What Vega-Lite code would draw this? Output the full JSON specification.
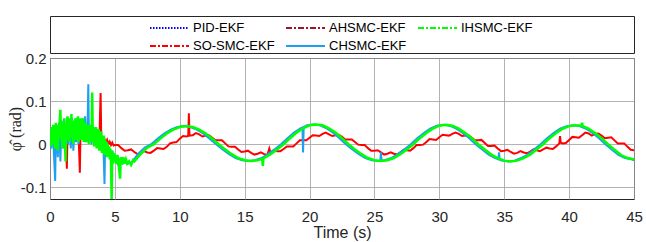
{
"$schema": "https://vega.github.io/schema/vega-lite/v6.json",
"background": "white",
"padding": {"left": 6, "top": 15, "right": 11, "bottom": 2},
"autosize": {"type": "pad"},
"spacing": 5,
"bounds": "flush",
"config": {
  "view": {"stroke": "#262626", "strokeWidth": 1},
  "font": "Liberation Sans",
  "axis": {"gridColor": "#a0a0a0", "gridWidth": 0.8, "gridOpacity": 1, "domain": false, "ticks": false, "labelFont": "Liberation Sans", "labelFontSize": 15, "labelColor": "#262626", "labelFlush": false, "labelOverlap": false, "titleFont": "Liberation Sans", "titleFontWeight": "normal", "titleColor": "#262626"}
},
"vconcat": [
  {
    "width": 584, "height": 37,
    "data": {"values": [{"k": 0}]},
    "mark": {"type": "point", "opacity": 0},
    "encoding": {
      "x": {"field": "k", "type": "quantitative", "axis": null},
      "y": {"field": "k", "type": "quantitative", "axis": null}
    }
  },
  {
    "width": 584, "height": 141,
    "data": {"values": [
{"s":"IHSMC-EKF","t":0.00,"v":0.010},{"s":"IHSMC-EKF","t":0.05,"v":0.035},{"s":"IHSMC-EKF","t":0.10,"v":-0.005},{"s":"IHSMC-EKF","t":0.15,"v":0.040},{"s":"IHSMC-EKF","t":0.20,"v":0.005},{"s":"IHSMC-EKF","t":0.25,"v":0.045},{"s":"IHSMC-EKF","t":0.30,"v":0.000},{"s":"IHSMC-EKF","t":0.35,"v":0.030},{"s":"IHSMC-EKF","t":0.40,"v":-0.010},{"s":"IHSMC-EKF","t":0.45,"v":0.050},
{"s":"IHSMC-EKF","t":0.50,"v":0.010},{"s":"IHSMC-EKF","t":0.55,"v":0.040},{"s":"IHSMC-EKF","t":0.60,"v":-0.015},{"s":"IHSMC-EKF","t":0.65,"v":0.045},{"s":"IHSMC-EKF","t":0.70,"v":0.015},{"s":"IHSMC-EKF","t":0.75,"v":0.055},{"s":"IHSMC-EKF","t":0.80,"v":0.080},{"s":"IHSMC-EKF","t":0.85,"v":0.010},{"s":"IHSMC-EKF","t":0.90,"v":0.050},{"s":"IHSMC-EKF","t":0.95,"v":-0.010},
{"s":"IHSMC-EKF","t":1.00,"v":0.045},{"s":"IHSMC-EKF","t":1.05,"v":0.000},{"s":"IHSMC-EKF","t":1.10,"v":0.060},{"s":"IHSMC-EKF","t":1.15,"v":0.015},{"s":"IHSMC-EKF","t":1.20,"v":-0.040},{"s":"IHSMC-EKF","t":1.25,"v":0.050},{"s":"IHSMC-EKF","t":1.30,"v":0.010},{"s":"IHSMC-EKF","t":1.35,"v":0.065},{"s":"IHSMC-EKF","t":1.40,"v":0.020},{"s":"IHSMC-EKF","t":1.45,"v":0.055},
{"s":"IHSMC-EKF","t":1.50,"v":0.005},{"s":"IHSMC-EKF","t":1.55,"v":0.060},{"s":"IHSMC-EKF","t":1.60,"v":0.020},{"s":"IHSMC-EKF","t":1.65,"v":0.070},{"s":"IHSMC-EKF","t":1.70,"v":0.015},{"s":"IHSMC-EKF","t":1.75,"v":0.050},{"s":"IHSMC-EKF","t":1.80,"v":0.000},{"s":"IHSMC-EKF","t":1.85,"v":0.055},{"s":"IHSMC-EKF","t":1.90,"v":0.020},{"s":"IHSMC-EKF","t":1.95,"v":0.060},
{"s":"IHSMC-EKF","t":2.00,"v":0.010},{"s":"IHSMC-EKF","t":2.05,"v":0.050},{"s":"IHSMC-EKF","t":2.10,"v":0.025},{"s":"IHSMC-EKF","t":2.15,"v":0.065},{"s":"IHSMC-EKF","t":2.20,"v":0.005},{"s":"IHSMC-EKF","t":2.25,"v":0.055},{"s":"IHSMC-EKF","t":2.30,"v":0.020},{"s":"IHSMC-EKF","t":2.35,"v":0.060},{"s":"IHSMC-EKF","t":2.40,"v":0.010},{"s":"IHSMC-EKF","t":2.45,"v":0.050},
{"s":"IHSMC-EKF","t":2.50,"v":0.030},{"s":"IHSMC-EKF","t":2.55,"v":0.060},{"s":"IHSMC-EKF","t":2.60,"v":0.005},{"s":"IHSMC-EKF","t":2.65,"v":0.045},{"s":"IHSMC-EKF","t":2.70,"v":0.015},{"s":"IHSMC-EKF","t":2.75,"v":0.050},{"s":"IHSMC-EKF","t":2.80,"v":0.005},{"s":"IHSMC-EKF","t":2.85,"v":0.040},{"s":"IHSMC-EKF","t":2.90,"v":0.010},{"s":"IHSMC-EKF","t":2.95,"v":0.045},
{"s":"IHSMC-EKF","t":3.00,"v":0.000},{"s":"IHSMC-EKF","t":3.05,"v":0.040},{"s":"IHSMC-EKF","t":3.10,"v":0.015},{"s":"IHSMC-EKF","t":3.15,"v":0.045},{"s":"IHSMC-EKF","t":3.20,"v":0.005},{"s":"IHSMC-EKF","t":3.25,"v":0.120},{"s":"IHSMC-EKF","t":3.30,"v":0.010},{"s":"IHSMC-EKF","t":3.35,"v":0.040},{"s":"IHSMC-EKF","t":3.40,"v":-0.005},{"s":"IHSMC-EKF","t":3.45,"v":0.035},
{"s":"IHSMC-EKF","t":3.50,"v":0.010},{"s":"IHSMC-EKF","t":3.55,"v":0.040},{"s":"IHSMC-EKF","t":3.60,"v":-0.010},{"s":"IHSMC-EKF","t":3.65,"v":0.030},{"s":"IHSMC-EKF","t":3.70,"v":0.000},{"s":"IHSMC-EKF","t":3.75,"v":0.035},{"s":"IHSMC-EKF","t":3.80,"v":-0.015},{"s":"IHSMC-EKF","t":3.85,"v":0.020},{"s":"IHSMC-EKF","t":3.90,"v":-0.005},{"s":"IHSMC-EKF","t":3.95,"v":0.030},
{"s":"IHSMC-EKF","t":4.00,"v":-0.020},{"s":"IHSMC-EKF","t":4.05,"v":0.015},{"s":"IHSMC-EKF","t":4.10,"v":-0.010},{"s":"IHSMC-EKF","t":4.15,"v":0.020},{"s":"IHSMC-EKF","t":4.20,"v":-0.025},{"s":"IHSMC-EKF","t":4.25,"v":0.010},{"s":"IHSMC-EKF","t":4.30,"v":-0.020},{"s":"IHSMC-EKF","t":4.35,"v":0.005},{"s":"IHSMC-EKF","t":4.40,"v":-0.030},{"s":"IHSMC-EKF","t":4.45,"v":0.000},
{"s":"IHSMC-EKF","t":4.50,"v":-0.025},{"s":"IHSMC-EKF","t":4.55,"v":-0.005},{"s":"IHSMC-EKF","t":4.60,"v":-0.035},{"s":"IHSMC-EKF","t":4.65,"v":-0.010},{"s":"IHSMC-EKF","t":4.70,"v":-0.040},{"s":"IHSMC-EKF","t":4.75,"v":-0.130},{"s":"IHSMC-EKF","t":4.80,"v":-0.015},{"s":"IHSMC-EKF","t":4.85,"v":-0.045},{"s":"IHSMC-EKF","t":4.90,"v":-0.020},{"s":"IHSMC-EKF","t":4.95,"v":-0.040},
{"s":"IHSMC-EKF","t":5.00,"v":-0.025},{"s":"IHSMC-EKF","t":5.10,"v":-0.045},{"s":"IHSMC-EKF","t":5.20,"v":-0.025},{"s":"IHSMC-EKF","t":5.30,"v":-0.050},{"s":"IHSMC-EKF","t":5.40,"v":-0.080},{"s":"IHSMC-EKF","t":5.45,"v":-0.030},{"s":"IHSMC-EKF","t":5.55,"v":-0.045},{"s":"IHSMC-EKF","t":5.65,"v":-0.030},{"s":"IHSMC-EKF","t":5.75,"v":-0.045},{"s":"IHSMC-EKF","t":5.85,"v":-0.035},
{"s":"IHSMC-EKF","t":5.95,"v":-0.045},{"s":"IHSMC-EKF","t":6.10,"v":-0.040},{"s":"IHSMC-EKF","t":6.25,"v":-0.048},{"s":"IHSMC-EKF","t":6.40,"v":-0.037},{"s":"IHSMC-EKF","t":6.50,"v":-0.040},{"s":"IHSMC-EKF","t":7.00,"v":-0.022},{"s":"IHSMC-EKF","t":7.50,"v":-0.008},
{"s":"IHSMC-EKF","t":8.0,"v":0.000},{"s":"IHSMC-EKF","t":8.5,"v":0.013},{"s":"IHSMC-EKF","t":9.0,"v":0.025},{"s":"IHSMC-EKF","t":9.5,"v":0.034},{"s":"IHSMC-EKF","t":10.0,"v":0.040},{"s":"IHSMC-EKF","t":10.5,"v":0.042},{"s":"IHSMC-EKF","t":11.0,"v":0.040},{"s":"IHSMC-EKF","t":11.5,"v":0.034},{"s":"IHSMC-EKF","t":12.0,"v":0.025},{"s":"IHSMC-EKF","t":12.5,"v":0.013},
{"s":"IHSMC-EKF","t":13.0,"v":0.000},{"s":"IHSMC-EKF","t":13.5,"v":-0.012},{"s":"IHSMC-EKF","t":14.0,"v":-0.023},{"s":"IHSMC-EKF","t":14.5,"v":-0.032},{"s":"IHSMC-EKF","t":15.0,"v":-0.037},{"s":"IHSMC-EKF","t":15.5,"v":-0.039},{"s":"IHSMC-EKF","t":16.0,"v":-0.037},{"s":"IHSMC-EKF","t":16.35,"v":-0.034},{"s":"IHSMC-EKF","t":16.4,"v":-0.050},{"s":"IHSMC-EKF","t":16.45,"v":-0.033},
{"s":"IHSMC-EKF","t":16.5,"v":-0.032},{"s":"IHSMC-EKF","t":17.0,"v":-0.023},{"s":"IHSMC-EKF","t":17.5,"v":-0.012},{"s":"IHSMC-EKF","t":18.0,"v":0.000},{"s":"IHSMC-EKF","t":18.5,"v":0.014},{"s":"IHSMC-EKF","t":19.0,"v":0.027},{"s":"IHSMC-EKF","t":19.5,"v":0.037},{"s":"IHSMC-EKF","t":20.0,"v":0.044},{"s":"IHSMC-EKF","t":20.5,"v":0.046},{"s":"IHSMC-EKF","t":21.0,"v":0.044},
{"s":"IHSMC-EKF","t":21.5,"v":0.037},{"s":"IHSMC-EKF","t":22.0,"v":0.027},{"s":"IHSMC-EKF","t":22.5,"v":0.014},{"s":"IHSMC-EKF","t":23.0,"v":0.000},{"s":"IHSMC-EKF","t":23.5,"v":-0.012},{"s":"IHSMC-EKF","t":24.0,"v":-0.023},{"s":"IHSMC-EKF","t":24.5,"v":-0.032},{"s":"IHSMC-EKF","t":25.0,"v":-0.037},{"s":"IHSMC-EKF","t":25.5,"v":-0.039},{"s":"IHSMC-EKF","t":26.0,"v":-0.037},
{"s":"IHSMC-EKF","t":26.5,"v":-0.032},{"s":"IHSMC-EKF","t":27.0,"v":-0.023},{"s":"IHSMC-EKF","t":27.5,"v":-0.012},{"s":"IHSMC-EKF","t":28.0,"v":0.000},{"s":"IHSMC-EKF","t":28.5,"v":0.014},{"s":"IHSMC-EKF","t":29.0,"v":0.026},{"s":"IHSMC-EKF","t":29.5,"v":0.036},{"s":"IHSMC-EKF","t":30.0,"v":0.043},{"s":"IHSMC-EKF","t":30.5,"v":0.045},{"s":"IHSMC-EKF","t":31.0,"v":0.043},
{"s":"IHSMC-EKF","t":31.5,"v":0.036},{"s":"IHSMC-EKF","t":32.0,"v":0.026},{"s":"IHSMC-EKF","t":32.5,"v":0.014},{"s":"IHSMC-EKF","t":33.0,"v":0.000},{"s":"IHSMC-EKF","t":33.5,"v":-0.012},{"s":"IHSMC-EKF","t":34.0,"v":-0.024},{"s":"IHSMC-EKF","t":34.5,"v":-0.032},{"s":"IHSMC-EKF","t":35.0,"v":-0.038},{"s":"IHSMC-EKF","t":35.5,"v":-0.040},{"s":"IHSMC-EKF","t":36.0,"v":-0.038},
{"s":"IHSMC-EKF","t":36.5,"v":-0.032},{"s":"IHSMC-EKF","t":37.0,"v":-0.024},{"s":"IHSMC-EKF","t":37.5,"v":-0.012},{"s":"IHSMC-EKF","t":38.0,"v":0.000},{"s":"IHSMC-EKF","t":38.5,"v":0.014},{"s":"IHSMC-EKF","t":39.0,"v":0.026},{"s":"IHSMC-EKF","t":39.5,"v":0.036},{"s":"IHSMC-EKF","t":40.0,"v":0.042},{"s":"IHSMC-EKF","t":40.5,"v":0.044},{"s":"IHSMC-EKF","t":40.95,"v":0.043},
{"s":"IHSMC-EKF","t":41.0,"v":0.050},{"s":"IHSMC-EKF","t":41.05,"v":0.042},{"s":"IHSMC-EKF","t":41.5,"v":0.036},{"s":"IHSMC-EKF","t":42.0,"v":0.026},{"s":"IHSMC-EKF","t":42.5,"v":0.014},{"s":"IHSMC-EKF","t":43.0,"v":0.000},{"s":"IHSMC-EKF","t":43.5,"v":-0.013},{"s":"IHSMC-EKF","t":44.0,"v":-0.025},{"s":"IHSMC-EKF","t":44.5,"v":-0.032},{"s":"IHSMC-EKF","t":45.0,"v":-0.035},

{"s":"CHSMC-EKF","t":0.0,"v":0.020},{"s":"CHSMC-EKF","t":0.1,"v":-0.010},{"s":"CHSMC-EKF","t":0.2,"v":0.040},{"s":"CHSMC-EKF","t":0.3,"v":-0.020},{"s":"CHSMC-EKF","t":0.4,"v":-0.085},{"s":"CHSMC-EKF","t":0.45,"v":0.030},{"s":"CHSMC-EKF","t":0.5,"v":0.045},{"s":"CHSMC-EKF","t":0.6,"v":-0.030},{"s":"CHSMC-EKF","t":0.7,"v":0.050},{"s":"CHSMC-EKF","t":0.8,"v":-0.040},
{"s":"CHSMC-EKF","t":0.9,"v":0.055},{"s":"CHSMC-EKF","t":1.0,"v":-0.010},{"s":"CHSMC-EKF","t":1.1,"v":0.050},{"s":"CHSMC-EKF","t":1.2,"v":-0.005},{"s":"CHSMC-EKF","t":1.3,"v":0.060},{"s":"CHSMC-EKF","t":1.4,"v":0.000},{"s":"CHSMC-EKF","t":1.5,"v":0.055},{"s":"CHSMC-EKF","t":1.6,"v":-0.010},{"s":"CHSMC-EKF","t":1.7,"v":0.060},{"s":"CHSMC-EKF","t":1.8,"v":-0.015},
{"s":"CHSMC-EKF","t":1.9,"v":0.050},{"s":"CHSMC-EKF","t":2.0,"v":0.005},{"s":"CHSMC-EKF","t":2.1,"v":0.060},{"s":"CHSMC-EKF","t":2.2,"v":0.000},{"s":"CHSMC-EKF","t":2.3,"v":0.055},{"s":"CHSMC-EKF","t":2.4,"v":0.010},{"s":"CHSMC-EKF","t":2.5,"v":0.060},{"s":"CHSMC-EKF","t":2.6,"v":0.015},{"s":"CHSMC-EKF","t":2.7,"v":0.065},{"s":"CHSMC-EKF","t":2.8,"v":0.005},
{"s":"CHSMC-EKF","t":2.9,"v":0.050},{"s":"CHSMC-EKF","t":2.95,"v":0.139},{"s":"CHSMC-EKF","t":3.0,"v":0.020},{"s":"CHSMC-EKF","t":3.1,"v":0.045},{"s":"CHSMC-EKF","t":3.2,"v":0.000},{"s":"CHSMC-EKF","t":3.3,"v":0.040},{"s":"CHSMC-EKF","t":3.4,"v":0.005},{"s":"CHSMC-EKF","t":3.5,"v":0.035},{"s":"CHSMC-EKF","t":3.6,"v":-0.005},{"s":"CHSMC-EKF","t":3.7,"v":0.030},
{"s":"CHSMC-EKF","t":3.8,"v":-0.010},{"s":"CHSMC-EKF","t":3.9,"v":0.025},{"s":"CHSMC-EKF","t":4.0,"v":-0.015},{"s":"CHSMC-EKF","t":4.1,"v":0.010},{"s":"CHSMC-EKF","t":4.2,"v":-0.092},{"s":"CHSMC-EKF","t":4.25,"v":0.000},{"s":"CHSMC-EKF","t":4.3,"v":-0.020},{"s":"CHSMC-EKF","t":4.4,"v":0.005},{"s":"CHSMC-EKF","t":4.5,"v":-0.025},{"s":"CHSMC-EKF","t":4.6,"v":-0.010},
{"s":"CHSMC-EKF","t":4.7,"v":-0.035},{"s":"CHSMC-EKF","t":4.8,"v":-0.015},{"s":"CHSMC-EKF","t":4.9,"v":-0.040},{"s":"CHSMC-EKF","t":5.0,"v":-0.025},{"s":"CHSMC-EKF","t":5.2,"v":-0.045},{"s":"CHSMC-EKF","t":5.4,"v":-0.035},{"s":"CHSMC-EKF","t":5.6,"v":-0.045},{"s":"CHSMC-EKF","t":5.8,"v":-0.040},{"s":"CHSMC-EKF","t":6.0,"v":-0.045},{"s":"CHSMC-EKF","t":6.3,"v":-0.042},
{"s":"CHSMC-EKF","t":6.8,"v":-0.022},{"s":"CHSMC-EKF","t":7.3,"v":-0.008},{"s":"CHSMC-EKF","t":7.8,"v":0.000},{"s":"CHSMC-EKF","t":8.3,"v":0.013},{"s":"CHSMC-EKF","t":8.8,"v":0.025},{"s":"CHSMC-EKF","t":9.3,"v":0.034},{"s":"CHSMC-EKF","t":9.8,"v":0.040},{"s":"CHSMC-EKF","t":10.3,"v":0.042},{"s":"CHSMC-EKF","t":10.8,"v":0.040},{"s":"CHSMC-EKF","t":11.3,"v":0.034},
{"s":"CHSMC-EKF","t":11.8,"v":0.025},{"s":"CHSMC-EKF","t":12.3,"v":0.013},{"s":"CHSMC-EKF","t":12.8,"v":0.000},{"s":"CHSMC-EKF","t":13.3,"v":-0.012},{"s":"CHSMC-EKF","t":13.8,"v":-0.023},{"s":"CHSMC-EKF","t":14.3,"v":-0.032},{"s":"CHSMC-EKF","t":14.8,"v":-0.037},{"s":"CHSMC-EKF","t":15.3,"v":-0.039},{"s":"CHSMC-EKF","t":15.8,"v":-0.037},{"s":"CHSMC-EKF","t":16.3,"v":-0.032},
{"s":"CHSMC-EKF","t":16.8,"v":-0.023},{"s":"CHSMC-EKF","t":17.3,"v":-0.012},{"s":"CHSMC-EKF","t":17.8,"v":0.000},{"s":"CHSMC-EKF","t":18.3,"v":0.014},{"s":"CHSMC-EKF","t":18.8,"v":0.027},{"s":"CHSMC-EKF","t":19.3,"v":0.037},{"s":"CHSMC-EKF","t":19.45,"v":0.039},{"s":"CHSMC-EKF","t":19.5,"v":-0.019},{"s":"CHSMC-EKF","t":19.55,"v":0.040},{"s":"CHSMC-EKF","t":19.8,"v":0.044},
{"s":"CHSMC-EKF","t":20.3,"v":0.046},{"s":"CHSMC-EKF","t":20.8,"v":0.044},{"s":"CHSMC-EKF","t":21.3,"v":0.037},{"s":"CHSMC-EKF","t":21.8,"v":0.027},{"s":"CHSMC-EKF","t":22.3,"v":0.014},{"s":"CHSMC-EKF","t":22.8,"v":0.000},{"s":"CHSMC-EKF","t":23.3,"v":-0.012},{"s":"CHSMC-EKF","t":23.8,"v":-0.023},{"s":"CHSMC-EKF","t":24.3,"v":-0.032},{"s":"CHSMC-EKF","t":24.8,"v":-0.037},
{"s":"CHSMC-EKF","t":25.3,"v":-0.039},{"s":"CHSMC-EKF","t":25.45,"v":-0.038},{"s":"CHSMC-EKF","t":25.5,"v":-0.019},{"s":"CHSMC-EKF","t":25.55,"v":-0.038},{"s":"CHSMC-EKF","t":25.8,"v":-0.037},{"s":"CHSMC-EKF","t":26.3,"v":-0.032},{"s":"CHSMC-EKF","t":26.8,"v":-0.023},{"s":"CHSMC-EKF","t":27.3,"v":-0.012},{"s":"CHSMC-EKF","t":27.8,"v":0.000},{"s":"CHSMC-EKF","t":28.3,"v":0.014},
{"s":"CHSMC-EKF","t":28.8,"v":0.026},{"s":"CHSMC-EKF","t":29.3,"v":0.036},{"s":"CHSMC-EKF","t":29.8,"v":0.043},{"s":"CHSMC-EKF","t":30.3,"v":0.045},{"s":"CHSMC-EKF","t":30.8,"v":0.043},{"s":"CHSMC-EKF","t":31.3,"v":0.036},{"s":"CHSMC-EKF","t":31.8,"v":0.026},{"s":"CHSMC-EKF","t":32.3,"v":0.014},{"s":"CHSMC-EKF","t":32.8,"v":0.000},{"s":"CHSMC-EKF","t":33.3,"v":-0.012},
{"s":"CHSMC-EKF","t":33.8,"v":-0.024},{"s":"CHSMC-EKF","t":34.3,"v":-0.032},{"s":"CHSMC-EKF","t":34.55,"v":-0.035},{"s":"CHSMC-EKF","t":34.6,"v":-0.019},{"s":"CHSMC-EKF","t":34.65,"v":-0.036},{"s":"CHSMC-EKF","t":34.8,"v":-0.038},{"s":"CHSMC-EKF","t":35.3,"v":-0.040},{"s":"CHSMC-EKF","t":35.8,"v":-0.038},{"s":"CHSMC-EKF","t":36.3,"v":-0.032},{"s":"CHSMC-EKF","t":36.8,"v":-0.024},
{"s":"CHSMC-EKF","t":37.3,"v":-0.012},{"s":"CHSMC-EKF","t":37.8,"v":0.000},{"s":"CHSMC-EKF","t":38.3,"v":0.014},{"s":"CHSMC-EKF","t":38.8,"v":0.026},{"s":"CHSMC-EKF","t":39.3,"v":0.036},{"s":"CHSMC-EKF","t":39.8,"v":0.042},{"s":"CHSMC-EKF","t":40.3,"v":0.044},{"s":"CHSMC-EKF","t":40.8,"v":0.042},{"s":"CHSMC-EKF","t":41.3,"v":0.036},{"s":"CHSMC-EKF","t":41.8,"v":0.026},
{"s":"CHSMC-EKF","t":42.3,"v":0.014},{"s":"CHSMC-EKF","t":42.8,"v":0.000},{"s":"CHSMC-EKF","t":43.3,"v":-0.013},{"s":"CHSMC-EKF","t":43.8,"v":-0.025},{"s":"CHSMC-EKF","t":44.3,"v":-0.032},{"s":"CHSMC-EKF","t":44.8,"v":-0.035},{"s":"CHSMC-EKF","t":45.0,"v":-0.037},

{"s":"SO-SMC-EKF","t":0.0,"v":0.015},{"s":"SO-SMC-EKF","t":0.1,"v":0.030},{"s":"SO-SMC-EKF","t":0.2,"v":0.005},{"s":"SO-SMC-EKF","t":0.3,"v":0.035},{"s":"SO-SMC-EKF","t":0.4,"v":0.010},{"s":"SO-SMC-EKF","t":0.5,"v":0.040},{"s":"SO-SMC-EKF","t":0.6,"v":0.010},{"s":"SO-SMC-EKF","t":0.7,"v":0.040},{"s":"SO-SMC-EKF","t":0.8,"v":0.015},{"s":"SO-SMC-EKF","t":0.9,"v":0.045},
{"s":"SO-SMC-EKF","t":1.0,"v":0.010},{"s":"SO-SMC-EKF","t":1.1,"v":0.040},{"s":"SO-SMC-EKF","t":1.2,"v":0.020},{"s":"SO-SMC-EKF","t":1.3,"v":-0.057},{"s":"SO-SMC-EKF","t":1.35,"v":0.030},{"s":"SO-SMC-EKF","t":1.4,"v":0.015},{"s":"SO-SMC-EKF","t":1.5,"v":0.045},{"s":"SO-SMC-EKF","t":1.6,"v":0.020},{"s":"SO-SMC-EKF","t":1.7,"v":0.050},{"s":"SO-SMC-EKF","t":1.8,"v":0.015},
{"s":"SO-SMC-EKF","t":1.9,"v":0.045},{"s":"SO-SMC-EKF","t":2.0,"v":0.020},{"s":"SO-SMC-EKF","t":2.1,"v":0.050},{"s":"SO-SMC-EKF","t":2.2,"v":0.025},{"s":"SO-SMC-EKF","t":2.3,"v":-0.066},{"s":"SO-SMC-EKF","t":2.35,"v":0.030},{"s":"SO-SMC-EKF","t":2.4,"v":0.020},{"s":"SO-SMC-EKF","t":2.5,"v":0.045},{"s":"SO-SMC-EKF","t":2.6,"v":0.025},{"s":"SO-SMC-EKF","t":2.7,"v":0.045},
{"s":"SO-SMC-EKF","t":2.8,"v":0.020},{"s":"SO-SMC-EKF","t":2.9,"v":0.040},{"s":"SO-SMC-EKF","t":3.0,"v":0.015},{"s":"SO-SMC-EKF","t":3.1,"v":0.040},{"s":"SO-SMC-EKF","t":3.2,"v":0.020},{"s":"SO-SMC-EKF","t":3.3,"v":0.035},{"s":"SO-SMC-EKF","t":3.4,"v":0.010},{"s":"SO-SMC-EKF","t":3.5,"v":0.030},{"s":"SO-SMC-EKF","t":3.6,"v":0.010},{"s":"SO-SMC-EKF","t":3.7,"v":0.025},
{"s":"SO-SMC-EKF","t":3.8,"v":0.005},{"s":"SO-SMC-EKF","t":3.9,"v":0.119},{"s":"SO-SMC-EKF","t":3.95,"v":0.010},{"s":"SO-SMC-EKF","t":4.0,"v":0.015},{"s":"SO-SMC-EKF","t":4.1,"v":0.005},{"s":"SO-SMC-EKF","t":4.2,"v":0.012},{"s":"SO-SMC-EKF","t":4.3,"v":0.002},{"s":"SO-SMC-EKF","t":4.4,"v":0.010},{"s":"SO-SMC-EKF","t":4.5,"v":0.000},{"s":"SO-SMC-EKF","t":4.6,"v":0.006},
{"s":"SO-SMC-EKF","t":4.7,"v":-0.002},{"s":"SO-SMC-EKF","t":4.8,"v":0.004},{"s":"SO-SMC-EKF","t":4.9,"v":-0.003},{"s":"SO-SMC-EKF","t":5.0,"v":-0.002},{"s":"SO-SMC-EKF","t":5.25,"v":-0.002},{"s":"SO-SMC-EKF","t":5.5,"v":-0.009},{"s":"SO-SMC-EKF","t":5.75,"v":-0.015},{"s":"SO-SMC-EKF","t":6.0,"v":-0.014},{"s":"SO-SMC-EKF","t":6.25,"v":-0.012},{"s":"SO-SMC-EKF","t":6.5,"v":-0.018},
{"s":"SO-SMC-EKF","t":6.75,"v":-0.023},{"s":"SO-SMC-EKF","t":7.0,"v":-0.021},{"s":"SO-SMC-EKF","t":7.25,"v":-0.016},{"s":"SO-SMC-EKF","t":7.5,"v":-0.019},{"s":"SO-SMC-EKF","t":7.75,"v":-0.020},{"s":"SO-SMC-EKF","t":8.0,"v":-0.015},{"s":"SO-SMC-EKF","t":8.25,"v":-0.009},{"s":"SO-SMC-EKF","t":8.5,"v":-0.010},{"s":"SO-SMC-EKF","t":8.75,"v":-0.011},{"s":"SO-SMC-EKF","t":9.0,"v":-0.006},
{"s":"SO-SMC-EKF","t":9.25,"v":0.002},{"s":"SO-SMC-EKF","t":9.5,"v":0.004},{"s":"SO-SMC-EKF","t":9.75,"v":0.005},{"s":"SO-SMC-EKF","t":10.0,"v":0.013},{"s":"SO-SMC-EKF","t":10.25,"v":0.019},{"s":"SO-SMC-EKF","t":10.5,"v":0.018},{"s":"SO-SMC-EKF","t":10.65,"v":0.019},{"s":"SO-SMC-EKF","t":10.7,"v":0.072},{"s":"SO-SMC-EKF","t":10.75,"v":0.020},{"s":"SO-SMC-EKF","t":11.0,"v":0.021},
{"s":"SO-SMC-EKF","t":11.25,"v":0.026},{"s":"SO-SMC-EKF","t":11.5,"v":0.023},{"s":"SO-SMC-EKF","t":11.75,"v":0.018},{"s":"SO-SMC-EKF","t":12.0,"v":0.020},{"s":"SO-SMC-EKF","t":12.25,"v":0.021},{"s":"SO-SMC-EKF","t":12.5,"v":0.015},{"s":"SO-SMC-EKF","t":12.75,"v":0.009},{"s":"SO-SMC-EKF","t":13.0,"v":0.009},{"s":"SO-SMC-EKF","t":13.25,"v":0.009},{"s":"SO-SMC-EKF","t":13.5,"v":0.002},
{"s":"SO-SMC-EKF","t":13.75,"v":-0.005},{"s":"SO-SMC-EKF","t":14.0,"v":-0.006},{"s":"SO-SMC-EKF","t":14.25,"v":-0.006},{"s":"SO-SMC-EKF","t":14.5,"v":-0.012},{"s":"SO-SMC-EKF","t":14.75,"v":-0.018},{"s":"SO-SMC-EKF","t":15.0,"v":-0.017},{"s":"SO-SMC-EKF","t":15.25,"v":-0.015},{"s":"SO-SMC-EKF","t":15.5,"v":-0.020},{"s":"SO-SMC-EKF","t":15.75,"v":-0.024},{"s":"SO-SMC-EKF","t":16.0,"v":-0.022},
{"s":"SO-SMC-EKF","t":16.25,"v":-0.019},{"s":"SO-SMC-EKF","t":16.5,"v":-0.023},{"s":"SO-SMC-EKF","t":16.75,"v":-0.025},{"s":"SO-SMC-EKF","t":16.9,"v":-0.010},{"s":"SO-SMC-EKF","t":17.0,"v":-0.020},{"s":"SO-SMC-EKF","t":17.25,"v":-0.015},{"s":"SO-SMC-EKF","t":17.5,"v":-0.016},{"s":"SO-SMC-EKF","t":17.75,"v":-0.016},{"s":"SO-SMC-EKF","t":18.0,"v":-0.011},{"s":"SO-SMC-EKF","t":18.25,"v":-0.005},
{"s":"SO-SMC-EKF","t":18.5,"v":-0.005},{"s":"SO-SMC-EKF","t":18.75,"v":-0.005},{"s":"SO-SMC-EKF","t":19.0,"v":0.002},{"s":"SO-SMC-EKF","t":19.25,"v":0.009},{"s":"SO-SMC-EKF","t":19.5,"v":0.009},{"s":"SO-SMC-EKF","t":19.75,"v":0.009},{"s":"SO-SMC-EKF","t":20.0,"v":0.015},{"s":"SO-SMC-EKF","t":20.25,"v":0.021},{"s":"SO-SMC-EKF","t":20.5,"v":0.020},{"s":"SO-SMC-EKF","t":20.75,"v":0.019},
{"s":"SO-SMC-EKF","t":21.0,"v":0.024},{"s":"SO-SMC-EKF","t":21.25,"v":0.027},{"s":"SO-SMC-EKF","t":21.5,"v":0.023},{"s":"SO-SMC-EKF","t":21.75,"v":0.019},{"s":"SO-SMC-EKF","t":22.0,"v":0.021},{"s":"SO-SMC-EKF","t":22.25,"v":0.022},{"s":"SO-SMC-EKF","t":22.5,"v":0.017},{"s":"SO-SMC-EKF","t":22.75,"v":0.011},{"s":"SO-SMC-EKF","t":23.0,"v":0.011},{"s":"SO-SMC-EKF","t":23.25,"v":0.011},
{"s":"SO-SMC-EKF","t":23.5,"v":0.005},{"s":"SO-SMC-EKF","t":23.75,"v":-0.001},{"s":"SO-SMC-EKF","t":24.0,"v":-0.002},{"s":"SO-SMC-EKF","t":24.25,"v":-0.002},{"s":"SO-SMC-EKF","t":24.5,"v":-0.009},{"s":"SO-SMC-EKF","t":24.75,"v":-0.015},{"s":"SO-SMC-EKF","t":25.0,"v":-0.015},{"s":"SO-SMC-EKF","t":25.25,"v":-0.014},{"s":"SO-SMC-EKF","t":25.5,"v":-0.019},{"s":"SO-SMC-EKF","t":25.75,"v":-0.024},
{"s":"SO-SMC-EKF","t":26.0,"v":-0.022},{"s":"SO-SMC-EKF","t":26.25,"v":-0.019},{"s":"SO-SMC-EKF","t":26.5,"v":-0.022},{"s":"SO-SMC-EKF","t":26.75,"v":-0.024},{"s":"SO-SMC-EKF","t":27.0,"v":-0.019},{"s":"SO-SMC-EKF","t":27.25,"v":-0.013},{"s":"SO-SMC-EKF","t":27.5,"v":-0.014},{"s":"SO-SMC-EKF","t":27.75,"v":-0.015},{"s":"SO-SMC-EKF","t":28.0,"v":-0.009},{"s":"SO-SMC-EKF","t":28.25,"v":-0.002},
{"s":"SO-SMC-EKF","t":28.5,"v":-0.002},{"s":"SO-SMC-EKF","t":28.75,"v":-0.001},{"s":"SO-SMC-EKF","t":29.0,"v":0.005},{"s":"SO-SMC-EKF","t":29.25,"v":0.012},{"s":"SO-SMC-EKF","t":29.5,"v":0.011},{"s":"SO-SMC-EKF","t":29.75,"v":0.010},{"s":"SO-SMC-EKF","t":30.0,"v":0.016},{"s":"SO-SMC-EKF","t":30.25,"v":0.022},{"s":"SO-SMC-EKF","t":30.5,"v":0.021},{"s":"SO-SMC-EKF","t":30.75,"v":0.020},
{"s":"SO-SMC-EKF","t":31.0,"v":0.024},{"s":"SO-SMC-EKF","t":31.25,"v":0.027},{"s":"SO-SMC-EKF","t":31.5,"v":0.024},{"s":"SO-SMC-EKF","t":31.75,"v":0.019},{"s":"SO-SMC-EKF","t":32.0,"v":0.020},{"s":"SO-SMC-EKF","t":32.25,"v":0.021},{"s":"SO-SMC-EKF","t":32.5,"v":0.015},{"s":"SO-SMC-EKF","t":32.75,"v":0.009},{"s":"SO-SMC-EKF","t":33.0,"v":0.009},{"s":"SO-SMC-EKF","t":33.25,"v":0.010},
{"s":"SO-SMC-EKF","t":33.5,"v":0.003},{"s":"SO-SMC-EKF","t":33.75,"v":-0.004},{"s":"SO-SMC-EKF","t":34.0,"v":-0.004},{"s":"SO-SMC-EKF","t":34.25,"v":-0.003},{"s":"SO-SMC-EKF","t":34.5,"v":-0.010},{"s":"SO-SMC-EKF","t":34.75,"v":-0.016},{"s":"SO-SMC-EKF","t":35.0,"v":-0.015},{"s":"SO-SMC-EKF","t":35.25,"v":-0.013},{"s":"SO-SMC-EKF","t":35.5,"v":-0.018},{"s":"SO-SMC-EKF","t":35.75,"v":-0.022},
{"s":"SO-SMC-EKF","t":36.0,"v":-0.020},{"s":"SO-SMC-EKF","t":36.25,"v":-0.016},{"s":"SO-SMC-EKF","t":36.5,"v":-0.019},{"s":"SO-SMC-EKF","t":36.75,"v":-0.021},{"s":"SO-SMC-EKF","t":37.0,"v":-0.017},{"s":"SO-SMC-EKF","t":37.25,"v":-0.012},{"s":"SO-SMC-EKF","t":37.5,"v":-0.014},{"s":"SO-SMC-EKF","t":37.75,"v":-0.016},{"s":"SO-SMC-EKF","t":38.0,"v":-0.012},{"s":"SO-SMC-EKF","t":38.25,"v":-0.008},
{"s":"SO-SMC-EKF","t":38.5,"v":-0.010},{"s":"SO-SMC-EKF","t":38.75,"v":-0.011},{"s":"SO-SMC-EKF","t":39.0,"v":-0.005},{"s":"SO-SMC-EKF","t":39.25,"v":0.002},{"s":"SO-SMC-EKF","t":39.3,"v":0.019},{"s":"SO-SMC-EKF","t":39.35,"v":0.004},{"s":"SO-SMC-EKF","t":39.5,"v":0.002},{"s":"SO-SMC-EKF","t":39.75,"v":0.003},{"s":"SO-SMC-EKF","t":40.0,"v":0.010},{"s":"SO-SMC-EKF","t":40.25,"v":0.017},
{"s":"SO-SMC-EKF","t":40.5,"v":0.016},{"s":"SO-SMC-EKF","t":40.75,"v":0.015},{"s":"SO-SMC-EKF","t":41.0,"v":0.021},{"s":"SO-SMC-EKF","t":41.25,"v":0.027},{"s":"SO-SMC-EKF","t":41.5,"v":0.025},{"s":"SO-SMC-EKF","t":41.75,"v":0.020},{"s":"SO-SMC-EKF","t":42.0,"v":0.024},{"s":"SO-SMC-EKF","t":42.25,"v":0.025},{"s":"SO-SMC-EKF","t":42.5,"v":0.020},{"s":"SO-SMC-EKF","t":42.75,"v":0.014},
{"s":"SO-SMC-EKF","t":43.0,"v":0.015},{"s":"SO-SMC-EKF","t":43.25,"v":0.016},{"s":"SO-SMC-EKF","t":43.5,"v":0.009},{"s":"SO-SMC-EKF","t":43.75,"v":0.002},{"s":"SO-SMC-EKF","t":44.0,"v":0.002},{"s":"SO-SMC-EKF","t":44.25,"v":0.002},{"s":"SO-SMC-EKF","t":44.5,"v":-0.006},{"s":"SO-SMC-EKF","t":44.75,"v":-0.013},{"s":"SO-SMC-EKF","t":45.0,"v":-0.014}
    ]},
    "encoding": {
      "x": {"field": "t", "type": "quantitative", "scale": {"domain": [0, 45], "nice": false, "zero": false},
            "axis": {"values": [0,5,10,15,20,25,30,35,40,45], "title": "Time (s)", "titleFontSize": 16, "labelPadding": 10, "titlePadding": 0, "grid": true}},
      "y": {"field": "v", "type": "quantitative", "scale": {"domain": [-0.127, 0.2], "nice": false, "zero": false},
            "axis": {"values": [-0.1, 0, 0.1, 0.2], "labelExpr": "'' + datum.value", "labelPadding": 4, "title": "φ̂ (rad)", "titleFont": "Liberation Serif", "titleFontSize": 16, "titlePadding": -3, "grid": true}},
      "color": {"field": "s", "type": "nominal",
                "scale": {"domain": ["PID-EKF", "SO-SMC-EKF", "AHSMC-EKF", "CHSMC-EKF", "IHSMC-EKF"], "range": ["#0000ff", "#ff0000", "#a2142f", "#1ea0f0", "#00ff00"]},
                "legend": {"orient": "none", "legendX": 99, "legendY": 3, "columns": 3, "title": null, "symbolType": "stroke", "symbolSize": 1521, "symbolStrokeWidth": 2, "clipHeight": 18, "rowPadding": 0, "columnPadding": 10, "labelFontSize": 13, "labelOffset": 3, "labelFont": "Liberation Sans", "labelColor": "#000000", "gridAlign": "each", "padding": 0,
                           "encode": {"symbols": {"update": {"strokeDash": {"signal": "datum.value === 'PID-EKF' ? [1.5,1.5] : datum.value === 'CHSMC-EKF' ? [] : [6,2,2,2]"}}}}}}
    },
    "layer": [
      {"transform": [{"filter": "datum.s === 'SO-SMC-EKF'"}], "mark": {"type": "line", "strokeWidth": 2, "clip": true}},
      {"transform": [{"filter": "datum.s === 'CHSMC-EKF'"}], "mark": {"type": "line", "strokeWidth": 2, "clip": true}},
      {"transform": [{"filter": "datum.s === 'IHSMC-EKF'"}], "mark": {"type": "line", "strokeWidth": 2.5, "clip": true}}
    ]
  }
]
}
